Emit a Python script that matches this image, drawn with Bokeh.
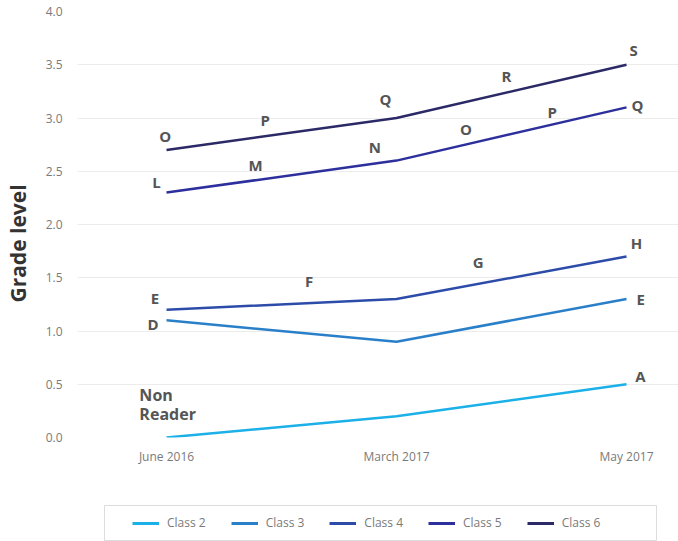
import math
from bokeh.plotting import figure
from bokeh.layouts import column, row
from bokeh.models import (Range1d, Legend, LegendItem, Label, ColumnDataSource,
                          FixedTicker, Spacer)
from bokeh.core.properties import value
from bokeh.embed import file_html
from bokeh.resources import INLINE

# ---- data ----
periods = ["June 2016", "March 2017", "May 2017"]
period_idx = [0, 1, 2]
classes = ["Class 2", "Class 3", "Class 4", "Class 5", "Class 6"]
class2 = [0.0, 0.2, 0.5]
class3 = [1.1, 0.9, 1.3]
class4 = [1.2, 1.3, 1.7]
class5 = [2.3, 2.6, 3.1]
class6 = [2.7, 3.0, 3.5]
colors = ["#1bb0e8", "#2a7fc9", "#2d4caa", "#2c2f9c", "#2b2966"]
y_ticks = [0.0, 0.5, 1.0, 1.5, 2.0, 2.5, 3.0, 3.5, 4.0]

# reading-level letters (text, x in period units, grade level)
lbl_text = ["A", "D", "E", "E", "F", "G", "H",
            "L", "M", "N", "O", "P", "Q",
            "O", "P", "Q", "R", "S"]
lbl_x = [2.06, -0.058, 2.062, -0.05, 0.62, 1.355, 2.043,
         -0.044, 0.387, 0.906, 1.302, 1.677, 2.048,
         -0.006, 0.429, 0.952, 1.478, 2.031]
lbl_y = [0.58, 1.065, 1.305, 1.31, 1.47, 1.65, 1.83,
         2.403, 2.556, 2.727, 2.898, 3.055, 3.123,
         2.83, 2.979, 3.18, 3.392, 3.637]
nr_text = ["Non", "Reader"]
nr_x = [-0.118, -0.118]
nr_y = [0.40, 0.225]

FONT = "Open Sans"

# ---- y-axis title strip ----
lab = figure(width=36, height=505, output_backend="svg", toolbar_location=None,
             x_range=Range1d(0, 36), y_range=Range1d(0, 505),
             x_axis_location=None, y_axis_location=None,
             min_border=0)
lab.outline_line_color = None
lab.grid.visible = False
lab.add_layout(Label(x=17, y=230, text="Grade level", angle=math.pi / 2,
                     text_font=FONT, text_font_style="bold",
                     text_font_size="21px", text_color="#333333",
                     text_align="center", text_baseline="middle"))

# ---- main chart ----
p = figure(width=642, height=505, output_backend="svg", toolbar_location=None,
           x_range=Range1d(-0.387, 2.226), y_range=Range1d(0, 4),
           min_border_left=41, min_border_right=0, min_border_top=11,
           min_border_bottom=68)
p.outline_line_color = None
p.xgrid.grid_line_color = None
p.ygrid.grid_line_color = "#ececec"
p.ygrid.grid_line_width = 1

for ax in (p.xaxis[0], p.yaxis[0]):
    ax.axis_line_color = None
    ax.major_tick_line_color = None
    ax.minor_tick_line_color = None
    ax.major_tick_out = 0
    ax.major_tick_in = 0
    ax.major_label_text_font = FONT
    ax.major_label_text_font_size = "12px"
    ax.major_label_text_color = "#7a7a7a"

p.xaxis.ticker = FixedTicker(ticks=period_idx)
p.xaxis.major_label_overrides = {i: s for i, s in zip(period_idx, periods)}
p.xaxis.major_label_standoff = 10
p.yaxis.ticker = FixedTicker(ticks=y_ticks)
p.yaxis.major_label_overrides = {t: f"{t:.1f}" for t in y_ticks}
p.yaxis.major_label_standoff = 15

series = [class2, class3, class4, class5, class6]
for vals, col in zip(series, colors):
    p.line(period_idx, vals, line_color=col, line_width=2.5)

src = ColumnDataSource(dict(x=lbl_x, y=lbl_y, t=lbl_text))
p.text(x="x", y="y", text="t", source=src, text_font=value(FONT),
       text_font_style="bold", text_font_size="15px", text_color="#555555",
       text_align="center", text_baseline="middle")
src2 = ColumnDataSource(dict(x=nr_x, y=nr_y, t=nr_text))
p.text(x="x", y="y", text="t", source=src2, text_font=value(FONT),
       text_font_style="bold", text_font_size="16px", text_color="#555555",
       text_align="left", text_baseline="middle")

# ---- legend strip ----
lg = figure(width=553, height=36, output_backend="svg", toolbar_location=None,
            x_range=Range1d(0, 1), y_range=Range1d(0, 1),
            x_axis_location=None, y_axis_location=None, min_border=0)
lg.grid.visible = False
lg.outline_line_color = "#dddddd"
lg.outline_line_width = 1
# legend-only renderers: their points lie outside this strip's ranges
leg_renderers = [lg.line(x=[5, 6], y=[5, 5], line_color=c, line_width=3) for c in colors]
leg = Legend(items=[LegendItem(label=n, renderers=[r]) for n, r in zip(classes, leg_renderers)],
             location=(28, 10), orientation="horizontal",
             padding=0, margin=0, spacing=25, glyph_width=27, glyph_height=16,
             label_height=16, label_standoff=8,
             label_text_font=FONT, label_text_font_size="12px",
             label_text_color="#7a7a7a",
             border_line_color=None, background_fill_alpha=0)
lg.add_layout(leg)

layout = column(row(lab, p), row(Spacer(width=104, height=36), lg))
open("out.html", "w").write(file_html(layout, INLINE))
